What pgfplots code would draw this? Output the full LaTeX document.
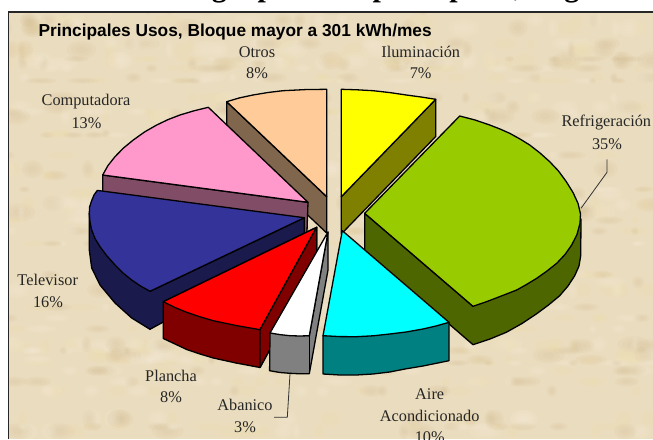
\documentclass[border=0pt]{standalone}
\usepackage{pgfplots}
\pgfplotsset{compat=1.18}
\usepackage{fontspec}
\setmainfont{Liberation Serif}
\newfontfamily\arialf{Liberation Sans}
\definecolor{bgbase}{RGB}{234,220,190}
\definecolor{bglight}{RGB}{248,240,224}
\definecolor{bgtan}{RGB}{212,190,146}
\definecolor{bgwarm}{RGB}{243,222,172}
\definecolor{peach}{RGB}{255,204,153}
\definecolor{peachs}{RGB}{128,102,76}
\definecolor{yel}{RGB}{255,255,0}
\definecolor{yels}{RGB}{128,128,0}
\definecolor{pinkt}{RGB}{255,153,204}
\definecolor{pinks}{RGB}{128,76,102}
\definecolor{blu}{RGB}{51,51,153}
\definecolor{blus}{RGB}{26,26,77}
\definecolor{grn}{RGB}{153,204,0}
\definecolor{grns}{RGB}{77,102,0}
\definecolor{cyn}{RGB}{0,255,255}
\definecolor{cyns}{RGB}{0,128,128}
\definecolor{redt}{RGB}{255,0,0}
\definecolor{reds}{RGB}{128,0,0}
\definecolor{grys}{RGB}{128,128,128}
\newcommand{\lab}{\fontsize{16.3}{18}\selectfont}
\begin{document}
\begin{tikzpicture}[x=1pt,y=1pt]
% page and textured chart area
\fill[white] (0,0) rectangle (653,439);
\begin{scope}
\clip (8.5,0) rectangle (653,427);
\fill[bgbase] (8.5,0) rectangle (653,427);
\foreach \i [remember=\s as \ls (initially 17), remember=\t as \lt (initially 5)] in {1,...,900}{
  \pgfmathtruncatemacro\s{mod(\ls*37+11,401)}
  \pgfmathtruncatemacro\t{mod(\lt*29+7,283)}
  \pgfmathsetmacro\px{\s*1.628}
  \pgfmathsetmacro\py{\t*1.551}
  \pgfmathtruncatemacro\k{mod(\i,3)}
  \pgfmathsetmacro\rr{4+mod(\s,13)}
  \pgfmathsetmacro\rs{3+mod(\t,7)}
  \ifnum\k=0\def\cc{bglight}\fi
  \ifnum\k=1\def\cc{bgtan}\fi
  \ifnum\k=2\def\cc{bgwarm}\fi
  \fill[\cc,fill opacity=.10] (\px,\py) ellipse [x radius=\rr,y radius=\rs];
  \fill[\cc,fill opacity=.10] (\px,\py) ellipse [x radius=.7*\rr,y radius=.7*\rs];
  \fill[\cc,fill opacity=.10] (\px,\py) ellipse [x radius=.4*\rr,y radius=.4*\rs];
}
\end{scope}
\draw[black!85,line width=1.1pt] (8.5,0) -- (8.5,427) -- (653,427);
\begin{axis}[at={(0,0)},anchor=south west,scale only axis,width=653pt,height=439pt,
  xmin=0,xmax=653,ymin=0,ymax=439,y dir=reverse,hide axis,clip=false,
  every axis plot/.append style={draw=black,line width=1.3pt,mark=none,line join=round}]
% Otros
\addplot[fill=peachs] coordinates {(226.7,101.7)(226.7,138.5)(326.7,233)(326.7,196.7)} -- cycle;
\addplot[fill=peach] coordinates {(226.7,101.7)(239,98)(253,95)(268,92.5)(283,90.7)(305,89.6)(326.7,89.3)(326.7,196.7)} -- cycle;
% Iluminacion
\addplot[fill=yels] coordinates {(435.7,99.3)(435.7,136.5)(341.3,234)(341.3,196.7)} -- cycle;
\addplot[fill=yel] coordinates {(341.3,89.3)(357,89.8)(373,90.7)(390,92.6)(406.3,95)(421,97)(435.7,99.3)(341.3,196.7)} -- cycle;
% Computadora
\addplot[fill=pinks] coordinates {(102.7,175)(102.7,212)(306.7,240)(308,202.3)} -- cycle;
\addplot[fill=pinkt] coordinates {(208.3,107.3)(194,110.8)(180,115)(168,119.6)(156.7,125)(144.5,132)(133.3,140)(123.5,148)(115,156.7)(108,165.5)(102.7,175)(308,202.3)} -- cycle;
% Televisor
\addplot[fill=blus] coordinates {(89.3,213.3)(89.3,250)(91.7,268)(100,285)(115,303)(131.7,318)(150,329.3)(304.3,245)(304.3,217.7)(150,291.3)} -- cycle;
\addplot[fill=blu] coordinates {(97.3,190.4)(94,195)(91.5,201)(89.6,207)(89.3,213.3)(90,222)(91.7,230)(95,238.5)(100,246.7)(107,256)(115,265)(123,273)(131.7,280)(140.5,286)(150,291.3)(304.3,217.7)} -- cycle;
% Refrigeracion
\addplot[fill=grns] coordinates {(364.7,213.3)(364.7,251)(473,344.7)(490,339)(506.3,332.3)(522,323.5)(536.3,314)(548.5,305)(559.7,295.7)(568,286)(574.7,275.7)(579,266)(580.7,255.7)(581,219)(473,306.3)} -- cycle;
\addplot[fill=grn] coordinates {(459.7,116)(475,120)(489.7,125)(500,129)(509.7,133.3)(520,139)(529.7,145)(540,153)(549.7,161.7)(558.5,171)(566.3,181.7)(573,192.5)(578,203.3)(580.5,214)(580,223.3)(577,234.5)(571.7,245)(565,254.5)(556.7,263.3)(547,271)(536.7,278.3)(526.5,284.5)(516.7,290)(500,296.5)(487,301.5)(473,306.3)(364.7,213.3)} -- cycle;
% Aire acondicionado
\addplot[fill=cyns] coordinates {(323,335.7)(323,374)(340,375)(356.3,375)(373,374)(389.7,372)(405,369)(423,366)(449,360.7)(449,322.3)} -- cycle;
\addplot[fill=cyn] coordinates {(342.3,230.7)(449,322.3)(436,326)(423,329)(406,332)(389.7,334)(373,335.8)(356.3,336.7)(340,336.6)(323,335.7)} -- cycle;
% Plancha
\addplot[fill=reds] coordinates {(163.3,301.7)(163.3,338.5)(175,344)(186.7,349.5)(200,354)(213.3,358)(236,363)(260,367.5)(316.7,264)(316.7,227.3)} -- cycle;
\addplot[fill=redt] coordinates {(316.7,227.3)(163.3,301.7)(175,307.5)(186.7,312.3)(200,316.8)(213.3,320.7)(236,325.5)(260,329.7)} -- cycle;
\addplot[fill=reds] coordinates {(260,329.7)(260,367.5)(316.7,264)(316.7,227.3)} -- cycle;
% Abanico
\addplot[fill=grys] coordinates {(270,333)(269.6,370.7)(280,372.5)(290,373.3)(300,373.8)(309.3,373.7)(328,270)(328,232)(309.3,335.7)} -- cycle;
\addplot[fill=white] coordinates {(328,232)(270,333)(280,334.6)(290,335.7)(300,336)(309.3,335.7)} -- cycle;
\addplot[fill=none] coordinates {(309.3,335.7)(309.3,373.7)} ;
% leader lines
\addplot[line width=.8pt,black!80] coordinates {(607,159.3)(607,172.3)(581,208.3)};
\addplot[line width=.8pt,black!80] coordinates {(290,374)(287.3,417.3)(274,417.3)};
% labels
\node[font=\lab,text=black!85] at (axis cs:257,51.7) {Otros};
\node[font=\lab,text=black!85] at (axis cs:257,73) {8\%};
\node[font=\lab,text=black!85] at (axis cs:420.7,51.5) {Iluminación};
\node[font=\lab,text=black!85] at (axis cs:420.7,73) {7\%};
\node[font=\lab,text=black!85] at (axis cs:86,101.5) {Computadora};
\node[font=\lab,text=black!85] at (axis cs:86.5,123) {13\%};
\node[font=\lab,text=black!85] at (axis cs:606.3,123) {Refrigeración};
\node[font=\lab,text=black!85] at (axis cs:607,144) {35\%};
\node[font=\lab,text=black!85] at (axis cs:47.7,280) {Televisor};
\node[font=\lab,text=black!85] at (axis cs:48,302) {16\%};
\node[font=\lab,text=black!85] at (axis cs:171,375.7) {Plancha};
\node[font=\lab,text=black!85] at (axis cs:171,397) {8\%};
\node[font=\lab,text=black!85] at (axis cs:245,405) {Abanico};
\node[font=\lab,text=black!85] at (axis cs:245,427) {3\%};
\node[font=\lab,text=black!85] at (axis cs:429.7,394) {Aire};
\node[font=\lab,text=black!85] at (axis cs:429.7,415.7) {Acondicionado};
\node[font=\lab,text=black!85] at (axis cs:429.7,437) {10\%};
\node[font=\arialf\bfseries\fontsize{17.3}{19}\selectfont,anchor=base west,inner sep=0pt,text=black] at (axis cs:38.3,36) {Principales Usos, Bloque mayor a 301 kWh/mes};
\node[font=\bfseries\fontsize{30}{32}\selectfont,anchor=base west,inner sep=0pt,text=black] at (axis cs:155,-3.5) {energía por usos principales, Región};
\end{axis}
\pgfresetboundingbox
\useasboundingbox (0,0) rectangle (653,439);
\end{tikzpicture}
\end{document}
